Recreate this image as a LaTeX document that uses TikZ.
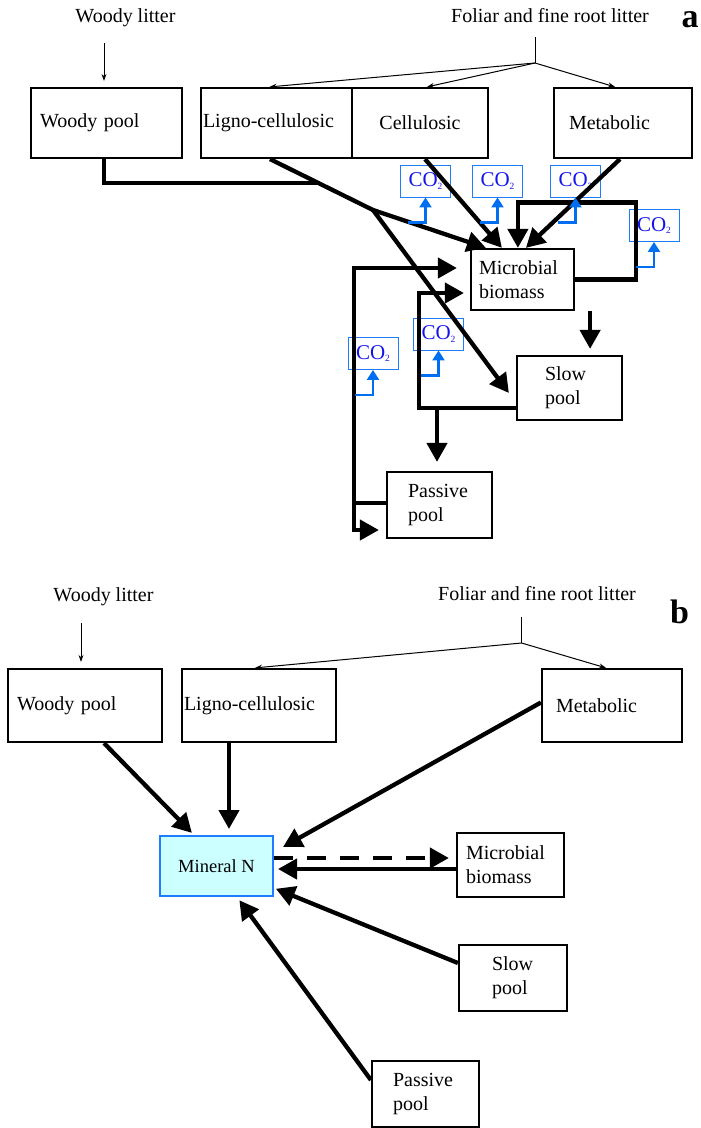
\documentclass[tikz,border=0pt]{standalone}
\usepackage{fontspec}
\setmainfont{Liberation Serif}
\usepackage{tikz}
\usetikzlibrary{arrows.meta}

\definecolor{cotext}{RGB}{20,20,235}
\definecolor{coline}{RGB}{30,125,255}
\definecolor{coarrow}{RGB}{0,110,240}
\definecolor{mineral}{RGB}{204,255,255}

\newcommand{\cotwo}{CO\raisebox{-2.5pt}{\fontsize{9.5}{10}\selectfont 2}}

\begin{document}
\begin{tikzpicture}[x=1pt,y=-1pt,
  pool/.style={draw, line width=2.2pt, align=left, inner ysep=0pt, font=\fontsize{20}{24}\selectfont},
  source/.style={font=\fontsize{20}{24}\selectfont, inner sep=0pt},
  panel/.style={font=\bfseries\fontsize{34}{36}\selectfont, inner sep=0pt},
  co2box/.style={draw=coline, line width=0.9pt, text=cotext, minimum width=50pt, minimum height=32pt, inner sep=0pt, font=\fontsize{21}{22}\selectfont},
  flow/.style={line width=4.3pt, line join=miter, -{Triangle[length=19pt,width=20pt]}},
  vent/.style={coarrow, line width=2.3pt, -{Triangle[length=10pt,width=12pt]}},
  litter/.style={line width=1pt, -{Stealth[length=7pt,width=5pt]}}]
  \useasboundingbox (0,0) rectangle (701,1128);

  % panel a
  \node[source, anchor=base] (wlA) at (125.5,22) {Woody litter};
  \node[source, anchor=base] (flA) at (550,22) {Foliar and fine root litter};
  \node[panel, anchor=base] (labA) at (690,27) {a};

  \node[pool, text width=133pt, inner xsep=9pt, minimum height=70pt] (WoodyA) at (106.5,123) {Woody pool};
  \node[pool, text width=147pt, inner xsep=2pt, minimum height=70pt] (LignoA) at (276.5,123) {Ligno-cellulosic};
  \node[pool, text width=132pt, inner xsep=2pt, minimum height=70pt, align=center] (CellA) at (420,123) {Cellulosic};
  \node[pool, text width=108pt, inner xsep=15pt, minimum height=70pt] (MetabA) at (623,123) {Metabolic};
  \node[pool, text width=87pt, inner xsep=8pt, minimum height=61pt] (MicrobA) at (522.5,279.5) {Microbial\\biomass};
  \node[pool, text width=49pt, inner xsep=28pt, minimum height=64pt] (SlowA) at (569.5,388) {Slow\\pool};
  \node[pool, text width=63pt, inner xsep=21pt, minimum height=66pt] (PassiveA) at (439.5,505) {Passive\\pool};

  \node[co2box] (co1) at (425.5,181) {\cotwo};
  \node[co2box] (co2) at (497.5,181) {\cotwo};
  \node[co2box] (co3) at (575.5,181) {\cotwo};
  \node[co2box] (co4) at (654,225.5) {\cotwo};
  \node[co2box] (co5) at (438.5,334) {\cotwo};
  \node[co2box] (co6) at (373,353.5) {\cotwo};

  \draw[litter, shorten <=21pt, shorten >=6pt] ([xshift=-2.5pt]WoodyA.north |- wlA.base) -- ([xshift=-2.5pt]WoodyA.north);
  \coordinate (fbA) at (535,63);
  \draw[line width=1pt] (fbA) -- ++(0,-26);
  \draw[litter] (fbA) -- ([xshift=-7pt]LignoA.north);
  \draw[litter] (fbA) -- ([xshift=7pt]CellA.north);
  \draw[litter] (fbA) -- ([xshift=-8pt]MetabA.north);

  \coordinate (split) at (373,210);
  \coordinate (jw) at (320,183.2);
  \draw[flow, -] ([xshift=-2.5pt]WoodyA.south) |- (jw);
  \draw[flow] ([xshift=-6.5pt]LignoA.south) -- (split) -- ([xshift=16pt]MicrobA.north west);
  \draw[flow] (split) -- ([shift={(-7pt,-5pt)}]SlowA.west);
  \draw[flow] ([xshift=5pt]CellA.south) -- ([xshift=32pt]MicrobA.north west);
  \draw[flow] ([xshift=-3pt]MetabA.south) -- ([xshift=56pt]MicrobA.north west);
  \draw[flow] (MicrobA.east) -- ++(61,0) -- ++(0,-77) -| ([xshift=48pt]MicrobA.north west);
  \draw[flow, shorten >=6pt] ([xshift=15pt]MicrobA.south east) -- ([xshift=15pt]MicrobA.south east |- SlowA.north);
  \draw[flow, shorten >=6pt] ([yshift=-20pt]SlowA.west) -- ++(-97,0) coordinate (sl) |- ([yshift=-13.5pt]MicrobA.west);
  \draw[flow, shorten >=9pt] ([xshift=-2.5pt]PassiveA.north |- sl) -- ([xshift=-2.5pt]PassiveA.north);
  \draw[flow, shorten >=13pt] ([yshift=2pt]PassiveA.west) -- ++(-32,0) coordinate (pv) |- ([yshift=11.5pt]MicrobA.west);
  \draw[flow, shorten >=7pt] (pv) |- ([yshift=-25pt]PassiveA.west);

  \draw[vent] ([shift={(-18pt,-25pt)}]co1.south) -| (co1.south);
  \draw[vent] ([shift={(-18pt,-25pt)}]co2.south) -| (co2.south);
  \draw[vent] ([shift={(-18pt,-25pt)}]co3.south) -| (co3.south);
  \draw[vent] ([shift={(-18pt,-25pt)}]co4.south) -| (co4.south);
  \draw[vent] ([shift={(-18pt,-25pt)}]co5.south) -| (co5.south);
  \draw[vent] ([shift={(-18pt,-25pt)}]co6.south) -| (co6.south);

  % panel b
  \node[source, anchor=base] (wlB) at (103.5,601) {Woody litter};
  \node[source, anchor=base] (flB) at (537,600) {Foliar and fine root litter};
  \node[panel, anchor=base] (labB) at (679.5,623) {b};

  \node[pool, text width=136pt, inner xsep=9pt, minimum height=73pt] (WoodyB) at (85,705.5) {Woody pool};
  \node[pool, text width=150pt, inner xsep=2pt, minimum height=73pt] (LignoB) at (259,705.5) {Ligno-cellulosic};
  \node[pool, text width=112pt, inner xsep=14pt, minimum height=73pt] (MetabB) at (612,705.5) {Metabolic};
  \node[draw=coline, fill=mineral, line width=2pt, minimum width=113pt, minimum height=60pt, font=\fontsize{18.5}{20}\selectfont] (Mineral) at (216.5,866) {Mineral N};
  \node[pool, text width=89pt, inner xsep=9pt, minimum height=64pt] (MicrobB) at (510.5,865) {Microbial\\biomass};
  \node[pool, text width=42pt, inner xsep=33pt, minimum height=66pt] (SlowB) at (513,978) {Slow\\pool};
  \node[pool, text width=65pt, inner xsep=21pt, minimum height=66pt] (PassiveB) at (425.5,1094) {Passive\\pool};

  \draw[litter, shorten <=22pt, shorten >=6pt] ([xshift=-4pt]WoodyB.north |- wlB.base) -- ([xshift=-4pt]WoodyB.north);
  \coordinate (fbB) at (521.6,643);
  \draw[line width=1pt] (fbB) -- ++(0,-26);
  \draw[litter] (fbB) -- ([xshift=-4pt]LignoB.north);
  \draw[litter] (fbB) -- ([xshift=-6pt]MetabB.north);

  \draw[flow, shorten >=3pt] ([xshift=19pt]WoodyB.south) -- ([xshift=35pt]Mineral.north west);
  \draw[flow, shorten >=6pt] ([xshift=-30pt]LignoB.south) -- ([xshift=-30pt]LignoB.south |- Mineral.north);
  \draw[flow] ([yshift=3pt]MetabB.west) -- ([shift={(9pt,-12pt)}]Mineral.north east);
  \draw[flow, dash pattern=on 19pt off 14pt, shorten >=7pt] ([yshift=8pt]Mineral.east) -- ([yshift=8pt]Mineral.east -| MicrobB.west);
  \draw[flow, shorten >=4pt] ([yshift=-4pt]MicrobB.west) -- ([yshift=-4pt]MicrobB.west -| Mineral.east);
  \draw[flow, shorten >=2pt] ([yshift=15pt]SlowB.west) -- ([yshift=-22pt]Mineral.east);
  \draw[flow, shorten >=4pt] ([yshift=14pt]PassiveB.west) -- ([xshift=20.5pt]Mineral.south);
\end{tikzpicture}
\end{document}
